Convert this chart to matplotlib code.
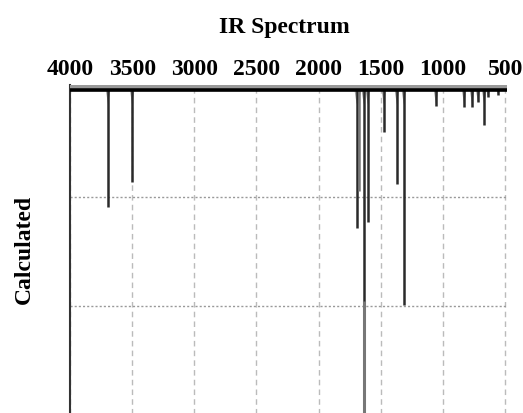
import matplotlib
matplotlib.use("Agg")
import matplotlib.pyplot as plt

# Data
wavenumbers = [3694, 3500, 1694, 1677, 1637, 1605, 1476, 1371, 1315, 1056, 830, 766, 718, 669, 637, 556]
intensities = [1.09, 0.86, 1.28, 0.94, 3.30, 1.23, 0.40, 0.88, 1.99, 0.16, 0.17, 0.17, 0.13, 0.34, 0.08, 0.06]
tick_values = [4000, 3500, 3000, 2500, 2000, 1500, 1000, 500]

fig = plt.figure(figsize=(5.23, 4.14), dpi=100)
ax = fig.add_axes([70/523, 1-416/414, (507-70)/523, (416-86)/414])

serif = ["Liberation Serif", "DejaVu Serif"]

ax.set_xlim(4000, 500 - 15)
ax.set_ylim(3.0, -0.03)

# grid
for t in tick_values:
    ax.axvline(t, color="#bbbbbb", lw=1.0, ls=(0, (4, 3)), zorder=1)
for yv in [1, 2]:
    ax.axhline(yv, color="#999999", lw=1.0, ls=(0, (1.5, 1.5)), zorder=1)

# broadened bases (light gray wedges near the top)
for wn, it in zip(wavenumbers, intensities):
    h = min(it, 0.15)
    ax.fill([wn - 20, wn, wn + 20], [0, h, 0], color="#a0a0a0", lw=0, zorder=2)

# sticks
colors = ["#2a2a2a"] * len(intensities)
colors[3] = "#777777"
ax.vlines(wavenumbers, 0, intensities, colors=colors, lw=1.8, zorder=3)
# the very deep band appears lighter below ~2
ax.vlines([1637], [1.95], [3.3], colors="#777777", lw=2.2, zorder=4)

# baseline band
ax.axhline(0, color="black", lw=5.5, zorder=5)
ax.axhline(-0.025, color="#999999", lw=2.5, zorder=5)

for s in ["right", "bottom", "top"]:
    ax.spines[s].set_visible(False)
ax.spines["left"].set_color("#333333")
ax.spines["left"].set_linewidth(1.5)

ax.xaxis.tick_top()
ax.set_xticks(tick_values)
ax.set_xticklabels([str(t) for t in tick_values], fontfamily=serif, fontweight="bold", fontsize=17)
ax.tick_params(axis="x", length=0, pad=4)
ax.set_yticks([])

fig.text(284/523, 1 - 27/414, "IR Spectrum", ha="center", va="center",
         fontfamily=serif, fontweight="bold", fontsize=17)
fig.text(24/523, 1 - 249/414, "Calculated", ha="center", va="center", rotation=90,
         fontfamily=serif, fontweight="bold", fontsize=17)

fig.savefig("out.png", dpi=100)
